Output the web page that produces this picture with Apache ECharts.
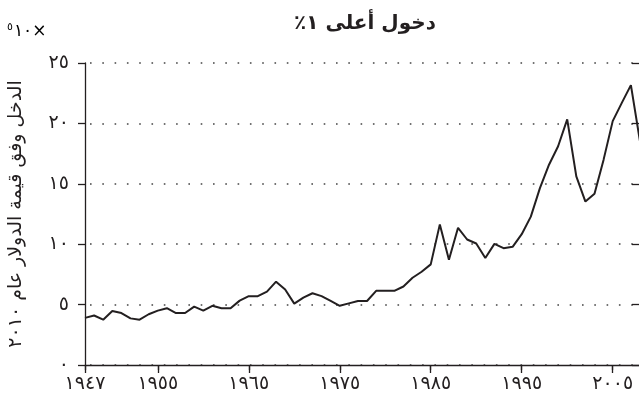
<!DOCTYPE html>
<html>
<head>
<meta charset="utf-8">
<script src="https://cdn.jsdelivr.net/npm/echarts@6/dist/echarts.min.js"></script>
<style>
  html, body { margin: 0; padding: 0; background: #fff; }
  #main { width: 639px; height: 403px; }
</style>
</head>
<body>
<div id="main"></div>
<script>
// income of the top 1%, in units of 10^5 (2010 dollars)
const years = [1947, 1948, 1949, 1950, 1951, 1952, 1953, 1954, 1955, 1956,
  1957, 1958, 1959, 1960, 1961, 1962, 1963, 1964, 1965, 1966,
  1967, 1968, 1969, 1970, 1971, 1972, 1973, 1974, 1975, 1976,
  1977, 1978, 1979, 1980, 1981, 1982, 1983, 1984, 1985, 1986,
  1987, 1988, 1989, 1990, 1991, 1992, 1993, 1994, 1995, 1996,
  1997, 1998, 1999, 2000, 2001, 2002, 2003, 2004, 2005, 2006,
  2007, 2008];
const incomes = [3.9, 4.1, 3.75, 4.47, 4.3, 3.86, 3.75, 4.2, 4.5, 4.7,
  4.3, 4.3, 4.83, 4.5, 4.9, 4.7, 4.7, 5.33, 5.7, 5.7,
  6.08, 6.9, 6.25, 5.08, 5.58, 5.94, 5.7, 5.3, 4.9, 5.1,
  5.3, 5.3, 6.14, 6.14, 6.14, 6.5, 7.22, 7.72, 8.33, 11.64,
  8.72, 11.36, 10.39, 10.06, 8.86, 10.03, 9.67, 9.78, 10.83, 12.28,
  14.64, 16.58, 18.11, 20.33, 15.61, 13.53, 14.17, 17.0, 20.19, 21.7,
  23.17, 18.5];
const xTicks = [1947, 1955, 1965, 1975, 1985, 1995, 2005];

const titleText = '\u200Fدخول أعلى ١٪\u200F';
const yName = 'الدخل وفق قيمة الدولار عام ٢٠١٠';

function toArabic(n) {
    return String(n).replace(/\d/g, d => '٠١٢٣٤٥٦٧٨٩'[d]);
}

const ink = '#231f20';
const font = 'DejaVu Sans';

let seriesData = [];
for (let i = 0; i < years.length; i++) seriesData.push([years[i], incomes[i]]);

let myChart = echarts.init(document.getElementById('main'));
myChart.setOption({
    animation: false,
    title: {
        text: titleText,
        left: 360,
        top: 9,
        textAlign: 'center',
        textStyle: { fontFamily: font, fontSize: 20, fontWeight: 'bold', color: ink }
    },
    graphic: [{
        type: 'text',
        left: 7,
        top: 22,
        style: {
            text: '{s|٥}{n|١٠×}',
            rich: {
                s: { fontFamily: font, fontSize: 11, color: ink, verticalAlign: 'top', padding: [0, 1, 9, 0] },
                n: { fontFamily: font, fontSize: 17, color: ink }
            }
        }
    }],
    grid: { left: 85, right: -1, top: 63, bottom: 38, outerBoundsMode: 'none' },
    xAxis: [
        {
            type: 'value',
            min: 1947,
            max: 2008,
            axisLine: { show: true, lineStyle: { color: ink, width: 1.3 } },
            axisTick: { show: true, customValues: xTicks, length: 8, lineStyle: { color: ink, width: 1.3 } },
            axisLabel: {
                customValues: xTicks,
                formatter: v => toArabic(v),
                fontFamily: font, fontSize: 19, color: ink, margin: 10
            },
            splitLine: { show: false }
        },
        {
            type: 'value',
            min: 1947,
            max: 2008,
            axisLine: { show: false },
            axisTick: { show: true, inside: true, customValues: xTicks, length: 5, lineStyle: { color: ink, width: 1.3 } },
            axisLabel: { show: false },
            splitLine: { show: false }
        }
    ],
    yAxis: [
        {
            type: 'value',
            min: 0,
            max: 25,
            interval: 5,
            name: yName,
            nameLocation: 'middle',
            nameRotate: 90,
            nameGap: 59,
            nameTextStyle: { fontFamily: font, fontSize: 19, color: ink },
            axisLine: { show: true, lineStyle: { color: ink, width: 1.3 } },
            axisTick: { show: true, length: 7, lineStyle: { color: ink, width: 1.3 } },
            axisLabel: { formatter: v => toArabic(v), fontFamily: font, fontSize: 19, color: ink, margin: 16 },
            splitLine: { show: true, lineStyle: { color: '#444', width: 1.6, type: [1.6, 10.7], dashOffset: -5 } }
        },
        {
            type: 'value',
            min: 0,
            max: 25,
            interval: 5,
            axisLine: { show: false },
            axisTick: { show: true, inside: true, length: 8, lineStyle: { color: ink, width: 1.3 } },
            axisLabel: { show: false },
            splitLine: { show: false }
        }
    ],
    series: [{
        type: 'line',
        data: seriesData,
        showSymbol: false,
        clip: true,
        lineStyle: { color: ink, width: 2 }
    }]
});
</script>
</body>
</html>
